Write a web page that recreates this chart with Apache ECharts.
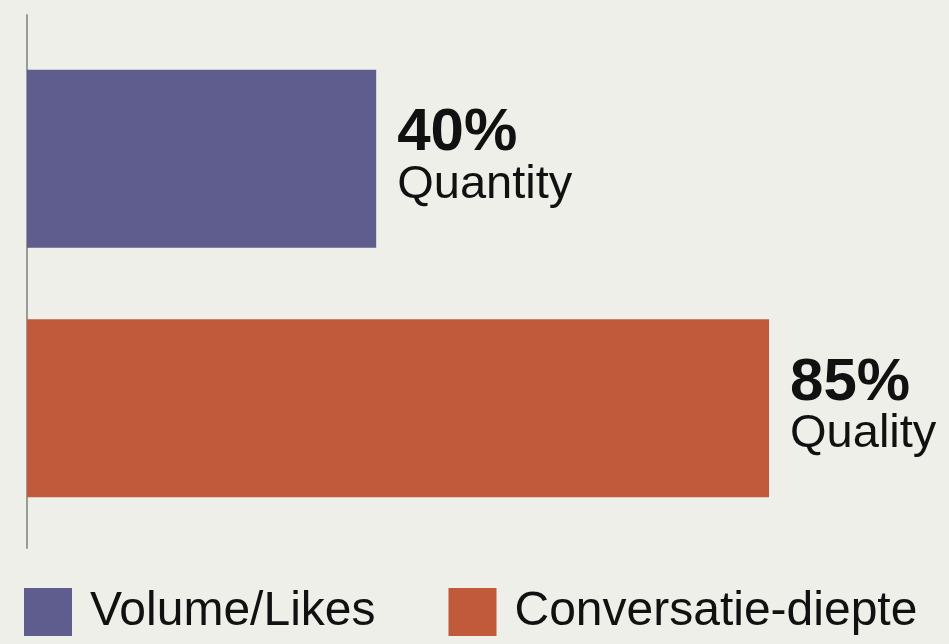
<!DOCTYPE html>
<html>
<head>
<meta charset="utf-8">
<script src="https://cdn.jsdelivr.net/npm/echarts@6/dist/echarts.min.js"></script>
<style>
html,body{margin:0;padding:0;background:#efefe9;}
#c{width:949px;height:644px;}
</style>
</head>
<body>
<div id="c"></div>
<script>
const categories = ['Volume/Likes', 'Conversatie-diepte'];
const values = [40, 85];
const labelNames = ['Quantity', 'Quality'];
const colors = ['#5e5d8d', '#c05a3a'];

const chart = echarts.init(document.getElementById('c'), null, {renderer: 'canvas'});

const series = categories.map((name, i) => ({
  name: name,
  type: 'bar',
  xAxisIndex: 0,
  yAxisIndex: 0,
  barWidth: 178,
  barGap: '-100%',
  data: categories.map((c, j) => j === i ? values[i] : null),
  itemStyle: {color: colors[i]},
  label: {
    show: true,
    position: 'right',
    distance: 21,
    formatter: () => '{a|' + values[i] + '%}\n{b|' + labelNames[i] + '}',
    rich: {
      a: {fontFamily: 'Liberation Sans', fontWeight: 'bold', fontSize: 60, color: '#111', lineHeight: 52},
      b: {fontFamily: 'Liberation Sans', fontSize: 47, color: '#111', lineHeight: 50}
    }
  }
}));

chart.setOption({
  backgroundColor: '#efefe9',
  animation: false,
  grid: [
    {left: 27, top: 34, width: 873, height: 499},
    {left: 27, top: 15, width: 873, height: 533}
  ],
  xAxis: [
    {type: 'value', gridIndex: 0, min: 0, max: 100, show: false},
    {type: 'value', gridIndex: 1, min: 0, max: 100, show: false}
  ],
  yAxis: [
    {type: 'category', gridIndex: 0, data: categories, inverse: true, show: false},
    {type: 'category', gridIndex: 1, data: categories, inverse: true,
     axisLine: {show: true, lineStyle: {color: '#9a9a98', width: 2}},
     axisTick: {show: false}, axisLabel: {show: false}, splitLine: {show: false}}
  ],
  legend: {
    left: 24,
    top: 588,
    padding: 0,
    itemWidth: 48,
    itemHeight: 48,
    itemGap: 73,
    icon: 'rect',
    data: categories,
    textStyle: {
      fontFamily: 'Liberation Sans',
      fontSize: 48,
      lineHeight: 48,
      color: '#111',
      padding: [0, 0, 0, 13]
    }
  },
  series: series
});
</script>
</body>
</html>
